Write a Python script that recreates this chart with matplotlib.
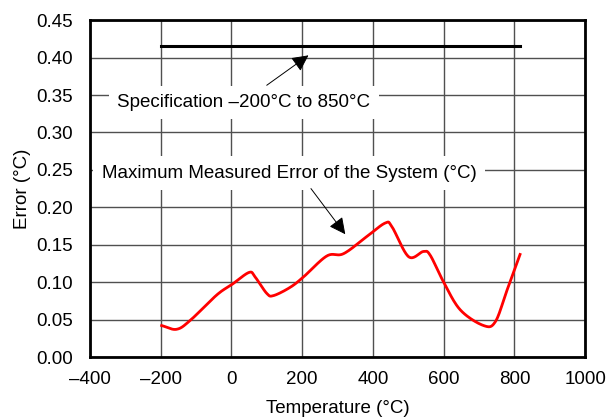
import numpy as np
import matplotlib.pyplot as plt

plt.rcParams['font.family'] = ['Liberation Sans', 'DejaVu Sans']

# measured maximum error curve
temp = [-197, -155, -116, -41, 2, 50, 67, 100, 119, 166, 204, 270, 317,
        383, 435, 454, 501, 543, 562, 599, 647, 713, 746, 779, 816]
error = [0.042, 0.037, 0.049, 0.083, 0.097, 0.113, 0.107, 0.085, 0.082,
         0.093, 0.107, 0.135, 0.138, 0.161, 0.179, 0.174, 0.134, 0.141,
         0.136, 0.101, 0.063, 0.042, 0.047, 0.089, 0.137]

spec_x = [-200, 816]
spec_y = [0.415, 0.415]

xticks = [-400, -200, 0, 200, 400, 600, 800, 1000]
xlabels = ['\u2013400', '\u2013200', '0', '200', '400', '600', '800', '1000']
yticks = np.arange(0, 0.451, 0.05)


def smooth(xs, ys):
    # Catmull-Rom through the read points
    xs = np.asarray(xs, float)
    ys = np.asarray(ys, float)
    px = np.concatenate(([2 * xs[0] - xs[1]], xs, [2 * xs[-1] - xs[-2]]))
    py = np.concatenate(([2 * ys[0] - ys[1]], ys, [2 * ys[-1] - ys[-2]]))
    ox, oy = [], []
    for i in range(1, len(px) - 2):
        t = np.linspace(0, 1, 20, endpoint=False)
        for p, out in ((px, ox), (py, oy)):
            p0, p1, p2, p3 = p[i - 1], p[i], p[i + 1], p[i + 2]
            out.extend(0.5 * ((2 * p1) + (-p0 + p2) * t
                              + (2 * p0 - 5 * p1 + 4 * p2 - p3) * t ** 2
                              + (-p0 + 3 * p1 - 3 * p2 + p3) * t ** 3))
    ox.append(xs[-1])
    oy.append(ys[-1])
    return np.array(ox), np.array(oy)


fs = 13.5
fig = plt.figure(figsize=(6.07, 4.20), dpi=100)
ax = fig.add_axes([0.148, 0.15, 0.816, 0.802])

sx, sy = smooth(temp, error)
ax.plot(sx, sy, color='#ff0000', lw=2.0, zorder=3)
ax.plot(spec_x, spec_y, color='black', lw=2.2, zorder=3)

ax.set_xlim(-400, 1000)
ax.set_ylim(0, 0.45)
ax.set_xticks(xticks)
ax.set_xticklabels(xlabels)
ax.set_yticks(yticks)
ax.set_yticklabels([f'{v:.2f}' for v in yticks])
ax.tick_params(axis='x', length=0, labelsize=fs, pad=10)
ax.tick_params(axis='y', length=0, labelsize=fs, pad=12)
ax.grid(True, color='#505050', lw=1)
ax.set_axisbelow(True)
for s in ax.spines.values():
    s.set_linewidth(2)

ax.set_xlabel('Temperature (\u00b0C)', fontsize=fs, labelpad=9)
ax.set_ylabel('Error (\u00b0C)', fontsize=fs, labelpad=4)

box = dict(boxstyle='square,pad=0.45', fc='white', ec='none')
arrow = dict(arrowstyle='-|>,head_length=1.0,head_width=0.5', lw=0.7,
             color='black', shrinkA=0, shrinkB=0)
ax.text(-322, 0.340, 'Specification \u2013200\u00b0C to 850\u00b0C',
        fontsize=fs, va='center', ha='left', bbox=box, zorder=4)
ax.annotate('', xy=(218, 0.403), xytext=(100, 0.363), arrowprops=arrow,
            zorder=5)
ax.text(-367, 0.2457, 'Maximum Measured Error of the System (\u00b0C)',
        fontsize=fs, va='center', ha='left', bbox=box, zorder=4)
ax.annotate('', xy=(322, 0.164), xytext=(225, 0.225), arrowprops=arrow,
            zorder=5)

fig.savefig('out.png', dpi=100)
